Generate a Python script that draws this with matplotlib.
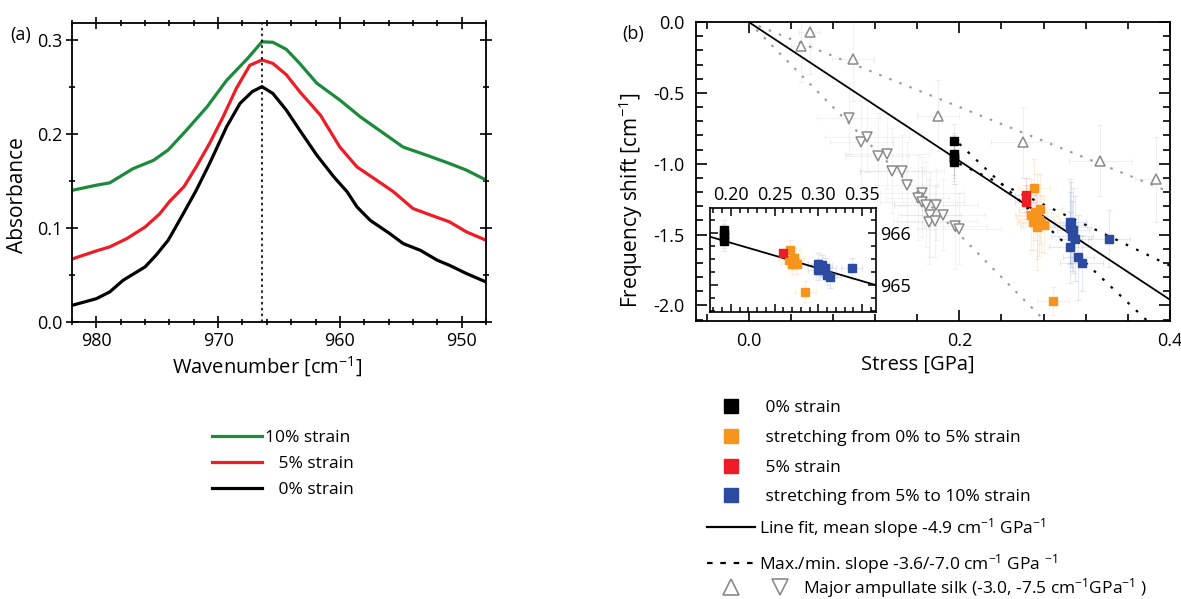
import matplotlib
matplotlib.use("Agg")
import matplotlib.pyplot as plt
from matplotlib.lines import Line2D
from matplotlib.legend_handler import HandlerTuple
import numpy as np

plt.rcParams['font.family'] = ['Open Sans', 'DejaVu Sans']
plt.rcParams['mathtext.fontset'] = 'custom'
plt.rcParams['mathtext.rm'] = 'Open Sans'
plt.rcParams['mathtext.default'] = 'regular'
plt.rcParams['axes.unicode_minus'] = False

# ---------------- Panel (a) data: absorbance spectra ----------------
wn_10 = [982.0, 980.0, 978.9, 977.0, 975.3, 974.1, 972.6, 970.9, 969.3, 967.6, 966.4, 965.5,
         964.4, 963.3, 961.9, 960.0, 958.3, 956.4, 954.8, 952.9, 951.0, 949.6, 948.0]
abs_10 = [0.140, 0.1455, 0.148, 0.163, 0.172, 0.183, 0.204, 0.229, 0.257, 0.280, 0.298, 0.2975,
          0.290, 0.275, 0.254, 0.236, 0.218, 0.2006, 0.186, 0.1775, 0.1686, 0.1615, 0.151]

wn_5 = [982.0, 980.0, 978.9, 977.5, 976.0, 974.8, 974.0, 972.8, 971.8, 970.7, 969.6, 968.5, 967.4,
        966.4, 965.5, 964.4, 963.3, 961.6, 960.0, 958.6, 957.2, 955.6, 954.0, 952.9, 951.0, 949.6, 948.0]
abs_5 = [0.067, 0.0756, 0.0799, 0.0887, 0.101, 0.115, 0.128, 0.144, 0.165, 0.190, 0.218, 0.2485, 0.273,
         0.2787, 0.275, 0.263, 0.245, 0.220, 0.186, 0.165, 0.1527, 0.1385, 0.1207, 0.1154, 0.1065, 0.0958, 0.087]

wn_0 = [982.0, 980.0, 978.9, 977.8, 976.0, 975.1, 974.1, 973.0, 971.8, 970.7, 969.3, 968.2, 967.2,
        966.4, 965.5, 964.4, 963.3, 961.9, 960.5, 959.4, 958.6, 957.5, 955.9, 954.8, 953.4, 952.0,
        951.0, 949.6, 948.0]
abs_0 = [0.0177, 0.0248, 0.032, 0.0444, 0.0586, 0.071, 0.087, 0.112, 0.140, 0.1686, 0.2077, 0.2325, 0.245,
         0.2503, 0.243, 0.2254, 0.204, 0.1775, 0.1544, 0.1384, 0.1225, 0.108, 0.094, 0.0834, 0.0763, 0.0657,
         0.0603, 0.0515, 0.0426]
peak_wn = 966.4
spectra_labels = ["10% strain", "   5% strain", "   0% strain"]

# ---------------- Panel (b) data: frequency shift vs stress ----------------
black_x = [0.195, 0.195, 0.195, 0.195, 0.195]
black_y = [-0.84, -0.93, -0.95, -0.97, -0.99]
black_xerr = [0.004, 0.004, 0.004, 0.004, 0.004]
black_yerr = [0.12, 0.15, 0.15, 0.15, 0.15]

red_x = [0.263, 0.263]
red_y = [-1.22, -1.27]
red_xerr = [0.01, 0.01]
red_yerr = [0.12, 0.12]

orange_x = [0.271, 0.277, 0.272, 0.274, 0.270, 0.276, 0.274, 0.280, 0.268, 0.278, 0.289]
orange_y = [-1.17, -1.32, -1.34, -1.37, -1.41, -1.40, -1.45, -1.43, -1.36, -1.42, -1.97]
orange_xerr = [0.015, 0.02, 0.015, 0.02, 0.015, 0.02, 0.015, 0.02, 0.015, 0.02, 0.015]
orange_yerr = [0.2, 0.25, 0.2, 0.3, 0.2, 0.25, 0.3, 0.2, 0.25, 0.2, 0.1]

blue_x = [0.305, 0.305, 0.308, 0.307, 0.310, 0.305, 0.313, 0.316, 0.342, 0.306]
blue_y = [-1.41, -1.45, -1.47, -1.51, -1.53, -1.59, -1.66, -1.70, -1.53, -1.43]
blue_xerr = [0.015, 0.02, 0.015, 0.02, 0.015, 0.02, 0.015, 0.02, 0.02, 0.015]
blue_yerr = [0.3, 0.25, 0.3, 0.25, 0.3, 0.25, 0.3, 0.2, 0.2, 0.3]

silk_up_x = [0.050, 0.058, 0.099, 0.180, 0.260, 0.334, 0.387]
silk_up_y = [-0.17, -0.07, -0.26, -0.66, -0.85, -0.98, -1.11]
silk_up_xerr = [0.01, 0.01, 0.02, 0.02, 0.03, 0.03, 0.02]
silk_up_yerr = [0.25, 0.3, 0.3, 0.25, 0.25, 0.25, 0.3]

silk_dn_x = [0.095, 0.107, 0.1125, 0.1226, 0.1315, 0.136, 0.1457, 0.150, 0.1646, 0.1605, 0.1646,
             0.168, 0.178, 0.172, 0.1845, 0.171, 0.177, 0.196, 0.200]
silk_dn_y = [-0.68, -0.85, -0.81, -0.945, -0.93, -1.05, -1.05, -1.15, -1.205, -1.24, -1.27,
             -1.29, -1.29, -1.36, -1.36, -1.41, -1.405, -1.44, -1.46]
silk_dn_xerr = [0.03, 0.03, 0.04, 0.03, 0.04, 0.03, 0.04, 0.03, 0.04, 0.03, 0.04,
                0.03, 0.04, 0.03, 0.04, 0.03, 0.04, 0.03, 0.04]
silk_dn_yerr = [0.25, 0.3, 0.25, 0.3, 0.25, 0.3, 0.25, 0.3, 0.25, 0.3, 0.25,
                0.3, 0.25, 0.3, 0.25, 0.3, 0.25, 0.3, 0.25]

mean_slope = -4.9
max_slope, min_slope = -3.6, -7.0
max_anchor = (0.2, -1.0)
min_anchor = (0.2, -0.86)
silk_slopes = [-3.0, -7.5]

# inset: absolute peak position vs stress
in_black_x = [0.1915, 0.1915, 0.1915, 0.1915]
in_black_y = [966.05, 965.98, 965.92, 965.85]
in_red_x = [0.260]
in_red_y = [965.62]
in_orange_x = [0.267, 0.266, 0.2716, 0.2698, 0.2755, 0.285]
in_orange_y = [965.67, 965.48, 965.51, 965.41, 965.41, 964.87]
in_blue_x = [0.300, 0.304, 0.300, 0.3079, 0.3098, 0.3136, 0.3384]
in_blue_y = [965.41, 965.38, 965.29, 965.32, 965.19, 965.15, 965.32]
in_fit_intercept = 966.79

GREEN = '#1b8a3a'
RED = '#ee1c25'
ORANGE = '#f7941d'
BLUE = '#2b4aa0'
GRAY = '#8a8a8a'

W, H = 1181, 599
fig = plt.figure(figsize=(W / 100, H / 100), dpi=100)
TICK_FS = 13
LABEL_FS = 14.5
LEG_FS = 12.5


def px_axes(l, t, r, b):
    return fig.add_axes([l / W, 1 - b / H, (r - l) / W, (b - t) / H])


# ---------------- Panel (a) ----------------
axa = px_axes(72, 23, 486, 322)
la, = axa.plot(wn_10, abs_10, color=GREEN, lw=2.3)
lb, = axa.plot(wn_5, abs_5, color=RED, lw=2.3)
lc, = axa.plot(wn_0, abs_0, color='black', lw=2.3)
axa.axvline(peak_wn, color='black', lw=1.2, ls=(0, (1.5, 2)))
axa.set_xlim(982, 948)
axa.set_ylim(0, 0.318)
axa.set_xticks([980, 970, 960, 950])
axa.set_xticks(np.arange(948, 983, 2), minor=True)
axa.set_yticks([0.0, 0.1, 0.2, 0.3])
axa.set_yticks([0.05, 0.15, 0.25], minor=True)
axa.set_yticklabels(['0.0', '0.1', '0.2', '0.3'])
for s in axa.spines.values():
    s.set_linewidth(1.3)
axa.tick_params(which='both', top=True, right=True, labelsize=TICK_FS, width=1.2)
axa.tick_params(axis='x', which='major', length=8, pad=3)
axa.tick_params(axis='y', which='major', length=8, pad=3)
axa.tick_params(which='minor', length=5)
axa.tick_params(axis='x', which='both', bottom=True, direction='inout')
axa.tick_params(axis='y', which='both', left=True, direction='inout')
axa.set_xlabel('Wavenumber [cm$^{-1}$]', fontsize=LABEL_FS)
axa.set_ylabel('Absorbance', fontsize=LABEL_FS + 0.5)
axa.xaxis.set_label_coords(0.472, -0.11)
axa.yaxis.set_label_coords(-0.106, 0.425)
fig.text(10 / W, 1 - 35 / H, '(a)', fontsize=13, va='center', ha='left')

fig.legend([la, lb, lc], spectra_labels, loc='upper left',
           bbox_to_anchor=(211.7 / W, 1 - 429.5 / H), frameon=False, fontsize=LEG_FS,
           handlelength=2.87, handletextpad=0.2, labelspacing=0.59,
           borderpad=0, borderaxespad=0)

# ---------------- Panel (b) ----------------
axb = px_axes(696, 22, 1170, 321)
xs = np.array([-0.05, 0.4])
xs0 = np.array([0.0, 0.4])
for sl in silk_slopes:
    axb.plot(xs0, sl * xs0, color='#999999', lw=1.5, ls=(0, (1.2, 4)), zorder=2)
axb.plot(xs, mean_slope * xs, color='black', lw=1.3, zorder=3)
xd = np.array([0.2, 0.4])
axb.plot(xd, max_anchor[1] + max_slope * (xd - max_anchor[0]), color='black', lw=1.6,
         ls=(0, (1.2, 4)), zorder=3)
axb.plot(xd, min_anchor[1] + min_slope * (xd - min_anchor[0]), color='black', lw=1.6,
         ls=(0, (1.2, 4)), zorder=3)


def eb(ax, x, y, xe, ye, c, a):
    ax.errorbar(x, y, xerr=xe, yerr=ye, fmt='none', ecolor=c, alpha=a, elinewidth=0.8,
                capsize=2, capthick=0.8, zorder=1)


eb(axb, silk_up_x, silk_up_y, silk_up_xerr, silk_up_yerr, GRAY, 0.12)
eb(axb, silk_dn_x, silk_dn_y, silk_dn_xerr, silk_dn_yerr, GRAY, 0.10)
eb(axb, orange_x, orange_y, orange_xerr, orange_yerr, ORANGE, 0.15)
eb(axb, blue_x, blue_y, blue_xerr, blue_yerr, BLUE, 0.12)
eb(axb, black_x, black_y, black_xerr, black_yerr, GRAY, 0.15)
eb(axb, red_x, red_y, red_xerr, red_yerr, RED, 0.15)

axb.plot(silk_up_x, silk_up_y, ls='none', marker='^', ms=7, mfc='white', mec=GRAY, mew=1.1, zorder=4)
axb.plot(silk_dn_x, silk_dn_y, ls='none', marker='v', ms=7, mfc='white', mec=GRAY, mew=1.1, zorder=4)
axb.plot(black_x, black_y, ls='none', marker='s', ms=5.5, color='black', zorder=5)
axb.plot(orange_x, orange_y, ls='none', marker='s', ms=5.5, color=ORANGE, zorder=5)
axb.plot(red_x, red_y, ls='none', marker='s', ms=5.5, color=RED, zorder=5)
axb.plot(blue_x, blue_y, ls='none', marker='s', ms=5.5, color=BLUE, zorder=5)

axb.set_xlim(-0.05, 0.4)
axb.set_ylim(-2.11, 0.0)
axb.set_xticks([0.0, 0.2, 0.4])
axb.set_xticklabels(['0.0', '0.2', '0.4'])
axb.set_xticks(np.arange(-0.04, 0.41, 0.04), minor=True)
axb.set_yticks([0.0, -0.5, -1.0, -1.5, -2.0])
axb.set_yticklabels(['0.0', '-0.5', '-1.0', '-1.5', '-2.0'])
axb.set_yticks(np.arange(-2.1, 0.0, 0.1), minor=True)
for s in axb.spines.values():
    s.set_linewidth(1.3)
axb.tick_params(which='both', direction='in', top=True, right=True, labelsize=TICK_FS, width=1.2)
axb.tick_params(which='major', length=8, pad=8)
axb.tick_params(which='minor', length=5)
axb.set_xlabel('Stress [GPa]', fontsize=LABEL_FS)
axb.set_ylabel('Frequency shift [cm$^{-1}$]', fontsize=LABEL_FS + 0.5)
axb.xaxis.set_label_coords(0.469, -0.114)
axb.yaxis.set_label_coords(-0.108, 0.405)
fig.text(622 / W, 1 - 34 / H, '(b)', fontsize=13, va='center', ha='left')

# inset
axi = px_axes(710, 208, 876, 312)
xi = np.array([0.176, 0.366])
axi.plot(xi, in_fit_intercept + mean_slope * xi, color='black', lw=1.3, zorder=3)
axi.errorbar(in_orange_x, in_orange_y, xerr=0.012, yerr=0.2, fmt='none', ecolor=ORANGE,
             alpha=0.12, elinewidth=0.8, capsize=2, zorder=1)
axi.errorbar(in_blue_x, in_blue_y, xerr=0.012, yerr=0.2, fmt='none', ecolor=BLUE,
             alpha=0.12, elinewidth=0.8, capsize=2, zorder=1)
axi.errorbar(in_black_x, in_black_y, xerr=0.004, yerr=0.2, fmt='none', ecolor=GRAY,
             alpha=0.15, elinewidth=0.8, capsize=2, zorder=1)
axi.plot(in_black_x, in_black_y, ls='none', marker='s', ms=5.5, color='black', zorder=4)
axi.plot(in_orange_x, in_orange_y, ls='none', marker='s', ms=5.5, color=ORANGE, zorder=4)
axi.plot(in_red_x, in_red_y, ls='none', marker='s', ms=5.5, color=RED, zorder=5)
axi.plot(in_blue_x, in_blue_y, ls='none', marker='s', ms=5.5, color=BLUE, zorder=4)
axi.set_xlim(0.176, 0.366)
axi.set_ylim(964.48, 966.48)
axi.set_xticks([0.20, 0.25, 0.30, 0.35])
axi.set_xticklabels(['0.20', '0.25', '0.30', '0.35'])
axi.set_xticks(np.arange(0.18, 0.37, 0.01), minor=True)
axi.set_yticks([965, 966])
axi.set_yticklabels(['965', '966'])
axi.set_yticks(np.arange(964.5, 966.5, 0.25), minor=True)
for s in axi.spines.values():
    s.set_linewidth(1.2)
axi.tick_params(which='both', direction='in', top=True, right=True, bottom=True, left=True,
                labeltop=True, labelbottom=False, labelright=True, labelleft=False,
                labelsize=TICK_FS, width=1.1)
axi.tick_params(which='major', length=6, pad=3)
axi.tick_params(which='minor', length=3.5)

# legend (b): squares
h_black = Line2D([], [], ls='none', marker='s', ms=10, color='black')
h_orange = Line2D([], [], ls='none', marker='s', ms=10, color=ORANGE)
h_red = Line2D([], [], ls='none', marker='s', ms=10, color=RED)
h_blue = Line2D([], [], ls='none', marker='s', ms=10, color=BLUE)
sq_labels = [' 0% strain', ' stretching from 0% to 5% strain', ' 5% strain',
             ' stretching from 5% to 10% strain']
fig.legend([h_black, h_orange, h_red, h_blue], sq_labels, loc='upper left',
           bbox_to_anchor=(706.7 / W, 1 - 400.2 / H), frameon=False, fontsize=LEG_FS,
           handlelength=2.8, handletextpad=0.3, labelspacing=0.78, borderpad=0,
           borderaxespad=0)

# legend (b): lines
h_fit = Line2D([], [], color='black', lw=1.6)
h_mm = Line2D([], [], color='black', lw=1.6, ls=(0, (2.5, 3.5)))
ln_labels = ['Line fit, mean slope -4.9 cm$^{-1}$ GPa$^{-1}$',
             'Max./min. slope -3.6/-7.0 cm$^{-1}$ GPa $^{-1}$']
fig.legend([h_fit, h_mm], ln_labels, loc='upper left',
           bbox_to_anchor=(706.7 / W, 1 - 516 / H), frameon=False, fontsize=LEG_FS,
           handlelength=2.8, handletextpad=0.2, labelspacing=0.7, borderpad=0,
           borderaxespad=0)

# legend (b): silk triangles
h_up = Line2D([], [], ls='none', marker='^', ms=11, mfc='white', mec=GRAY, mew=1.2)
h_dn = Line2D([], [], ls='none', marker='v', ms=11, mfc='white', mec=GRAY, mew=1.2)
fig.legend([(h_up, h_dn)], ['Major ampullate silk (-3.0, -7.5 cm$^{-1}$GPa$^{-1}$ )'],
           handler_map={tuple: HandlerTuple(ndivide=None, pad=0.77)}, loc='upper left',
           bbox_to_anchor=(713.2 / W, 1 - 576 / H), frameon=False, fontsize=LEG_FS,
           handlelength=4.86, handletextpad=0.3, borderpad=0, borderaxespad=0)

fig.savefig('out.png', dpi=100)
